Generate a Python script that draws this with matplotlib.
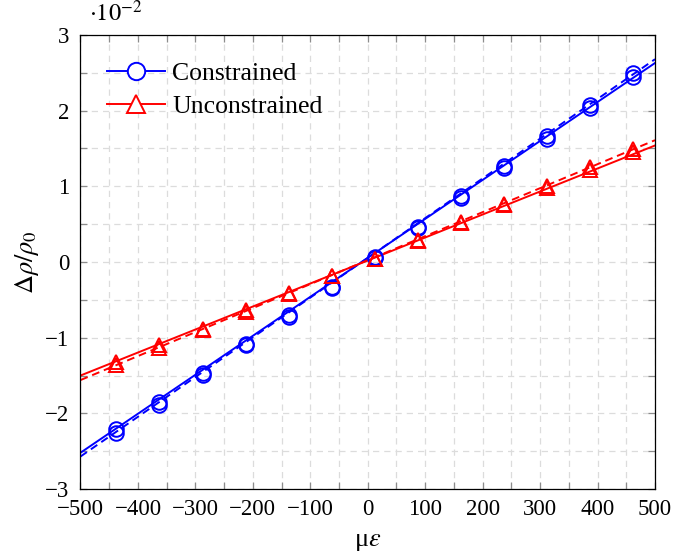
"""Relative resistivity change vs. microstrain, constrained vs. unconstrained."""

import matplotlib

matplotlib.use("Agg")
import matplotlib.pyplot as plt
from matplotlib.lines import Line2D
from matplotlib.ticker import MultipleLocator

# values on the y axis are in units of 1e-2
strain = [-437.5, -362.5, -287.5, -212.5, -137.5, -62.5, 12.5,
          87.5, 162.5, 237.5, 312.5, 387.5, 462.5]

constrained_a = [-2.21, -1.85, -1.46, -1.08, -0.70, -0.33, 0.05,
                 0.45, 0.85, 1.24, 1.63, 2.04, 2.44]
constrained_b = [-2.26, -1.89, -1.49, -1.10, -0.72, -0.34, 0.06,
                 0.46, 0.87, 1.27, 1.67, 2.08, 2.50]
unconstrained_a = [-1.32, -1.10, -0.88, -0.64, -0.41, -0.19, 0.04,
                   0.28, 0.51, 0.75, 0.98, 1.22, 1.45]
unconstrained_b = [-1.36, -1.13, -0.90, -0.66, -0.42, -0.19, 0.04,
                   0.29, 0.53, 0.77, 1.01, 1.25, 1.49]

# linear fits, read at the axis ends
fit_x = [-500, 500]
constrained_fit = [-2.52, 2.63]
constrained_fit_dashed = [-2.57, 2.68]
unconstrained_fit = [-1.50, 1.54]
unconstrained_fit_dashed = [-1.56, 1.61]

plt.rcParams["font.family"] = ["Liberation Serif", "DejaVu Serif"]
plt.rcParams["mathtext.fontset"] = "stix"

BLUE = "#0000ff"
RED = "#ff0000"
GRID = "#dcdcdc"

fig = plt.figure(figsize=(6.73, 5.57), dpi=100)
ax = fig.add_axes([0.1196, 0.122, 0.8537, 0.8152])

LW = 1.4
ax.plot(fit_x, constrained_fit, color=BLUE, lw=LW)
ax.plot(fit_x, constrained_fit_dashed, color=BLUE, lw=LW, ls=(0, (4, 2.5)))
ax.plot(fit_x, unconstrained_fit, color=RED, lw=LW)
ax.plot(fit_x, unconstrained_fit_dashed, color=RED, lw=LW, ls=(0, (4, 2.5)))

marker_kw = dict(ls="none", mfc="none", mew=1.4, ms=10.5)
ax.plot(strain, constrained_a, marker="o", mec=BLUE, **marker_kw)
ax.plot(strain, constrained_b, marker="o", mec=BLUE, **marker_kw)
ax.plot(strain, unconstrained_a, marker="^", mec=RED, **marker_kw)
ax.plot(strain, unconstrained_b, marker="^", mec=RED, **marker_kw)

ax.set_xlim(-500, 500)
ax.set_ylim(-3, 3)
ax.xaxis.set_major_locator(MultipleLocator(100))
ax.xaxis.set_minor_locator(MultipleLocator(50))
ax.yaxis.set_major_locator(MultipleLocator(1))
ax.yaxis.set_minor_locator(MultipleLocator(0.5))
minus = plt.FuncFormatter(lambda v, _: f"{v:.0f}".replace("-", "\u2212"))
ax.xaxis.set_major_formatter(minus)
ax.yaxis.set_major_formatter(minus)

ax.tick_params(which="both", direction="in", top=True, right=True,
               length=5, width=0.9, color="#8c8c8c", labelsize=16.5)
ax.tick_params(axis="x", pad=7)
ax.tick_params(axis="y", pad=8)
ax.grid(True, which="both", color=GRID, lw=0.9, ls=(0, (5, 4)))
ax.set_axisbelow(True)
for spine in ax.spines.values():
    spine.set_linewidth(0.9)

ax.set_xlabel("μ$\\varepsilon$", fontsize=19, labelpad=8)
ax.set_ylabel("$\\Delta\\rho/\\rho_0$", fontsize=19, labelpad=3)
ax.text(0.015, 1.02, "$\\cdot10^{-2}$", transform=ax.transAxes,
        fontsize=17.5, ha="left", va="bottom")

handles = [
    Line2D([], [], color=BLUE, lw=LW, marker="o", mfc="white", mec=BLUE, mew=1.4, ms=12.5),
    Line2D([], [], color=RED, lw=LW, marker="^", mfc="white", mec=RED, mew=1.4, ms=12.5),
]
ax.legend(handles, ["Constrained", "Unconstrained"], loc="upper left",
          frameon=False, fontsize=18.5, handlelength=2.25, handletextpad=0.3,
          borderpad=0, borderaxespad=0, labelspacing=0.4,
          bbox_to_anchor=(0.046, 0.94))

fig.savefig("out.png", dpi=100)
